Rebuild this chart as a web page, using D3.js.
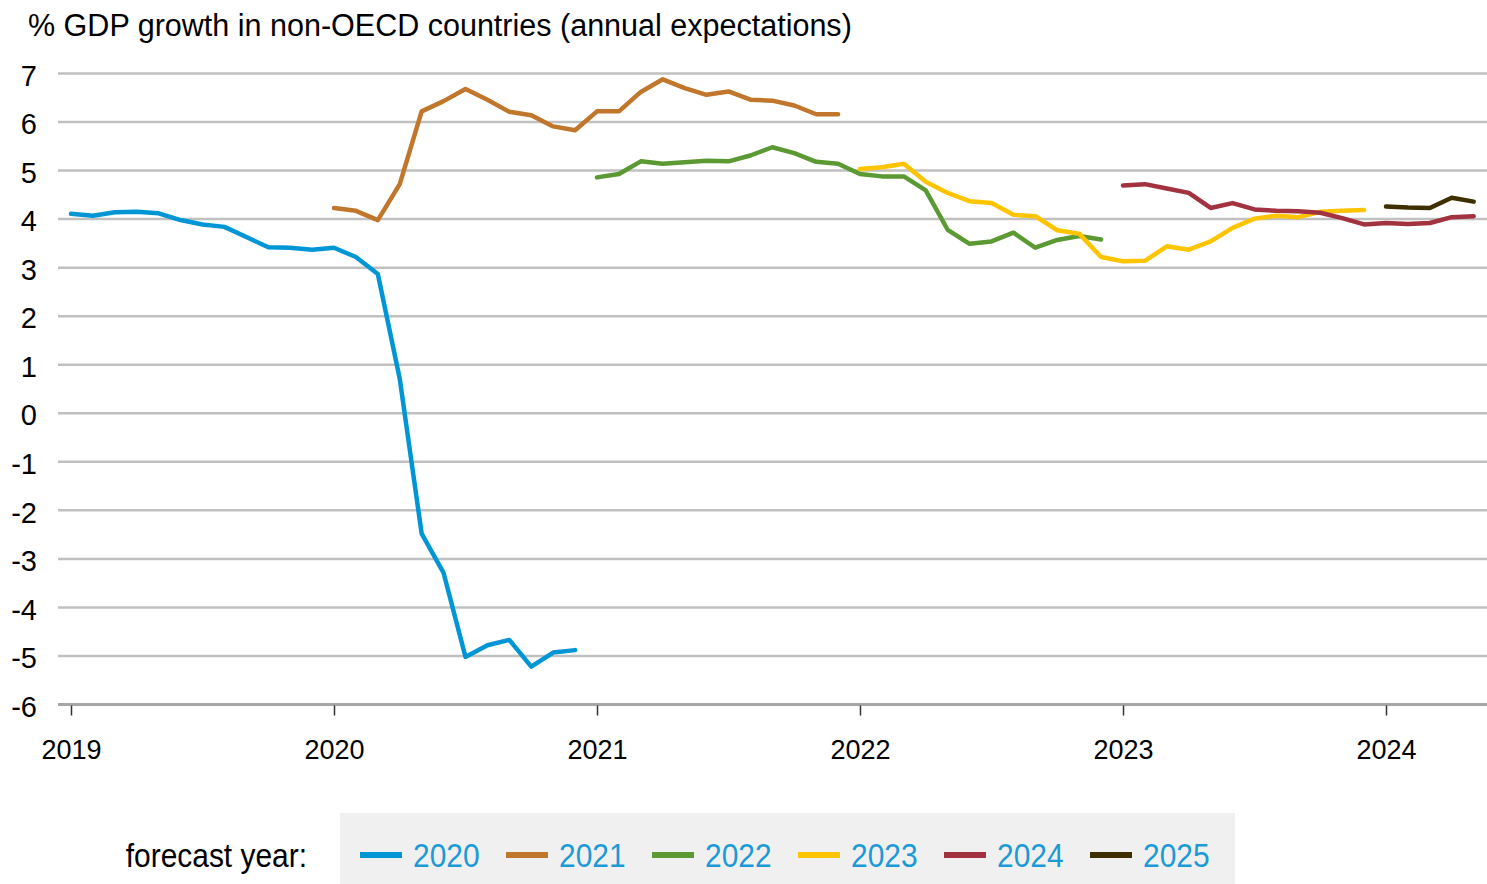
<!DOCTYPE html>
<html>
<head>
<meta charset="utf-8">
<script src="https://cdn.jsdelivr.net/npm/d3@7/dist/d3.min.js"></script>
<style>
  html, body { margin: 0; padding: 0; background: #fff; }
  svg { display: block; font-family: "Liberation Sans", Arial, sans-serif; }
</style>
</head>
<body>
<svg id="chart" width="1487" height="884"></svg>
<script>
// ---- data (monthly forecasts, month index 0 = Jan 2019) ----
const yearTicks = [2019, 2020, 2021, 2022, 2023, 2024];
const yTicks = [7, 6, 5, 4, 3, 2, 1, 0, -1, -2, -3, -4, -5, -6];
const seriesNames = ["2020", "2021", "2022", "2023", "2024", "2025"];
const seriesColors = ["#0096d6", "#c0762b", "#5b9a33", "#ffc400", "#a2323f", "#3e2f00"];
const seriesStart = [0, 12, 24, 36, 48, 60];

const f2020 = [4.10, 4.06, 4.13, 4.14, 4.11, 3.97, 3.88, 3.83, 3.62, 3.41, 3.40, 3.36,
               3.40, 3.21, 2.86, 0.70, -2.49, -3.30, -5.03, -4.79, -4.68, -5.23, -4.94, -4.89];
const f2021 = [4.22, 4.16, 3.97, 4.71, 6.21, 6.42, 6.67, 6.45, 6.20, 6.13, 5.90, 5.82,
               6.21, 6.21, 6.61, 6.87, 6.69, 6.55, 6.62, 6.45, 6.43, 6.33, 6.15, 6.15];
const f2022 = [4.85, 4.92, 5.18, 5.13, 5.16, 5.19, 5.18, 5.30, 5.47, 5.35, 5.17, 5.13,
               4.92, 4.87, 4.87, 4.58, 3.77, 3.48, 3.53, 3.71, 3.40, 3.56, 3.64, 3.57];
const f2023 = [5.02, 5.06, 5.13, 4.76, 4.53, 4.36, 4.32, 4.08, 4.05, 3.76, 3.69, 3.21,
               3.12, 3.13, 3.43, 3.36, 3.53, 3.81, 4.00, 4.06, 4.03, 4.14, 4.16, 4.18];
const f2024 = [4.68, 4.71, 4.62, 4.53, 4.22, 4.32, 4.19, 4.16, 4.15, 4.12, 4.01, 3.88,
               3.91, 3.89, 3.91, 4.03, 4.05];
const f2025 = [4.25, 4.23, 4.22, 4.43, 4.35];
const seriesValues = [f2020, f2021, f2022, f2023, f2024, f2025];

// ---- layout ----
const svg = d3.select("#chart");
const W = 1487;
const gridLeft = 58;

const x = d3.scaleLinear().domain([0, 60]).range([71, 1386]);
const y = d3.scaleLinear().domain([-6, 7]).range([704, 73]);

// title
svg.append("text")
  .attr("transform", "translate(28,36) scale(0.985,1)")
  .attr("font-size", 31).attr("fill", "#000")
  .text("% GDP growth in non-OECD countries (annual expectations)");

// y axis with gridlines
const yAxis = svg.append("g")
  .attr("transform", `translate(${gridLeft},0)`)
  .call(d3.axisLeft(y).tickValues(yTicks).tickSize(-(W - gridLeft)).tickPadding(21)
        .tickFormat(d => d));
yAxis.select(".domain").remove();
yAxis.selectAll(".tick line")
  .attr("stroke", d => d === -6 ? "#a6a6a6" : "#c0c0c0")
  .attr("stroke-width", d => d === -6 ? 3 : 2.5);
yAxis.selectAll(".tick text")
  .attr("font-size", 29).attr("fill", "#000")
  .attr("font-family", "Liberation Sans, Arial, sans-serif")
  .attr("dy", "0.42em");

// x axis
const xAxis = svg.append("g")
  .attr("transform", `translate(0,${y(-6) + 1.5})`)
  .call(d3.axisBottom(x).tickValues(yearTicks.map((d, i) => i * 12))
        .tickSize(10).tickFormat((d, i) => yearTicks[i]));
xAxis.select(".domain").remove();
xAxis.selectAll(".tick line").attr("stroke", "#333").attr("stroke-width", 1.5);
xAxis.selectAll(".tick text")
  .attr("font-size", 27).attr("fill", "#000")
  .attr("font-family", "Liberation Sans, Arial, sans-serif")
  .attr("dy", null).attr("y", 53);

// lines
const line = d3.line()
  .x(d => x(d.m))
  .y(d => y(d.v));

seriesValues.forEach((vals, si) => {
  const pts = vals.map((v, i) => ({ m: seriesStart[si] + i, v }));
  svg.append("path")
    .datum(pts)
    .attr("d", line)
    .attr("fill", "none")
    .attr("stroke", seriesColors[si])
    .attr("stroke-width", 4.5)
    .attr("stroke-linejoin", "round")
    .attr("stroke-linecap", "round");
});

// legend
svg.append("rect")
  .attr("x", 340).attr("y", 813).attr("width", 895).attr("height", 71)
  .attr("fill", "#f0f0f0");

svg.append("text")
  .attr("transform", "translate(307,867) scale(0.88,1)")
  .attr("text-anchor", "end")
  .attr("font-size", 34).attr("fill", "#000")
  .text("forecast year:");

seriesNames.forEach((name, i) => {
  const x0 = 360 + i * 146;
  svg.append("line")
    .attr("x1", x0).attr("x2", x0 + 42)
    .attr("y1", 855).attr("y2", 855)
    .attr("stroke", seriesColors[i]).attr("stroke-width", 6);
  svg.append("text")
    .attr("transform", `translate(${x0 + 53},867) scale(0.88,1)`)
    .attr("font-size", 34).attr("fill", "#1b9ad6")
    .text(name);
});
</script>
</body>
</html>
